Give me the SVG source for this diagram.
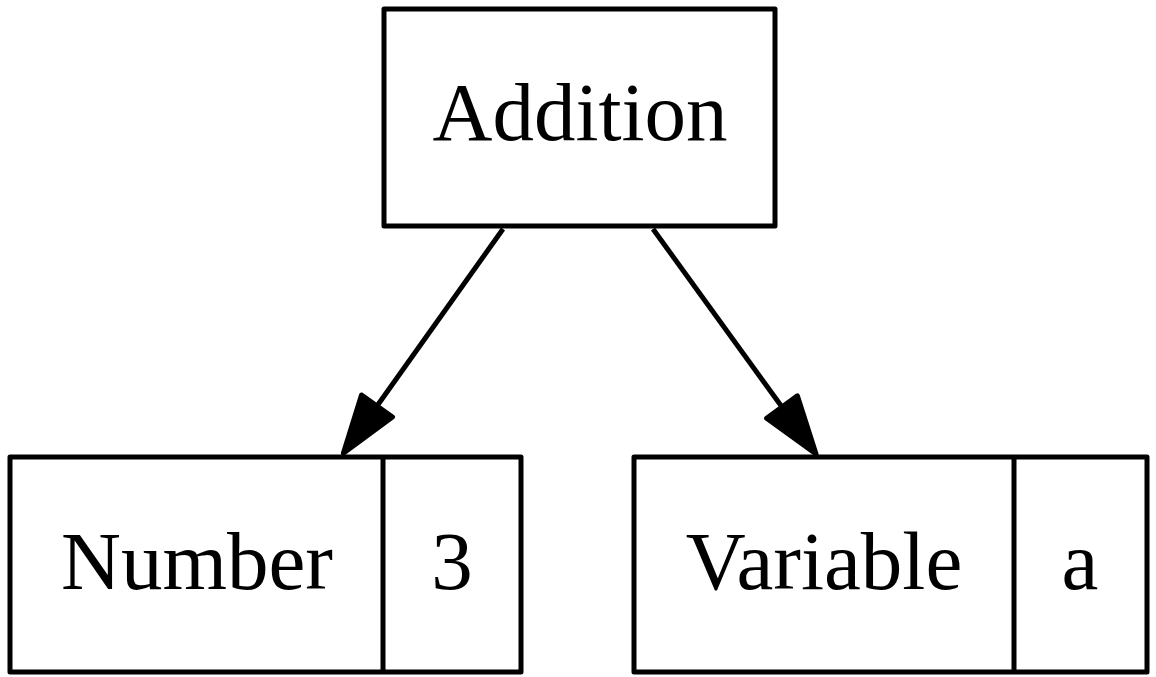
<svg xmlns="http://www.w3.org/2000/svg" width="1156" height="677" viewBox="0 0 1156 677">
<style>
.box{fill:#fff;stroke:#000;stroke-width:5;stroke-linejoin:round}
.div{stroke:#000;stroke-width:5}
.lbl{font-family:"Liberation Serif","Times New Roman",serif;font-size:83px;fill:#000;text-anchor:middle}
.edge{stroke:#000;stroke-width:5;fill:none}
</style>
<defs>
<marker id="ah" markerUnits="userSpaceOnUse" orient="auto" refX="0" refY="0" markerWidth="80" markerHeight="60" viewBox="-5 -30 75 60" overflow="visible">
<path d="M0,-19 L58,0 L0,19 Z" fill="#000" stroke="#000" stroke-width="5" stroke-linejoin="round"/>
</marker>
</defs>
<rect width="1156" height="677" fill="#fff"/>
<g id="connectors">
<line class="edge" x1="503" y1="229" x2="377" y2="406" marker-end="url(#ah)"/>
<line class="edge" x1="653" y1="229" x2="782" y2="407" marker-end="url(#ah)"/>
</g>
<g id="addition">
<rect class="box" x="384" y="9" width="391" height="217"/>
<text class="lbl" x="580" y="140">Addition</text>
</g>
<g id="number">
<rect class="box" x="10" y="457" width="511" height="215"/>
<line class="div" x1="383" y1="457" x2="383" y2="672"/>
<text class="lbl" x="197" y="589">Number</text>
<text class="lbl" x="452" y="589">3</text>
</g>
<g id="variable">
<rect class="box" x="634" y="457" width="513" height="215"/>
<line class="div" x1="1014" y1="457" x2="1014" y2="672"/>
<text class="lbl" x="824" y="589">Variable</text>
<text class="lbl" x="1080" y="589">a</text>
</g>
</svg>
